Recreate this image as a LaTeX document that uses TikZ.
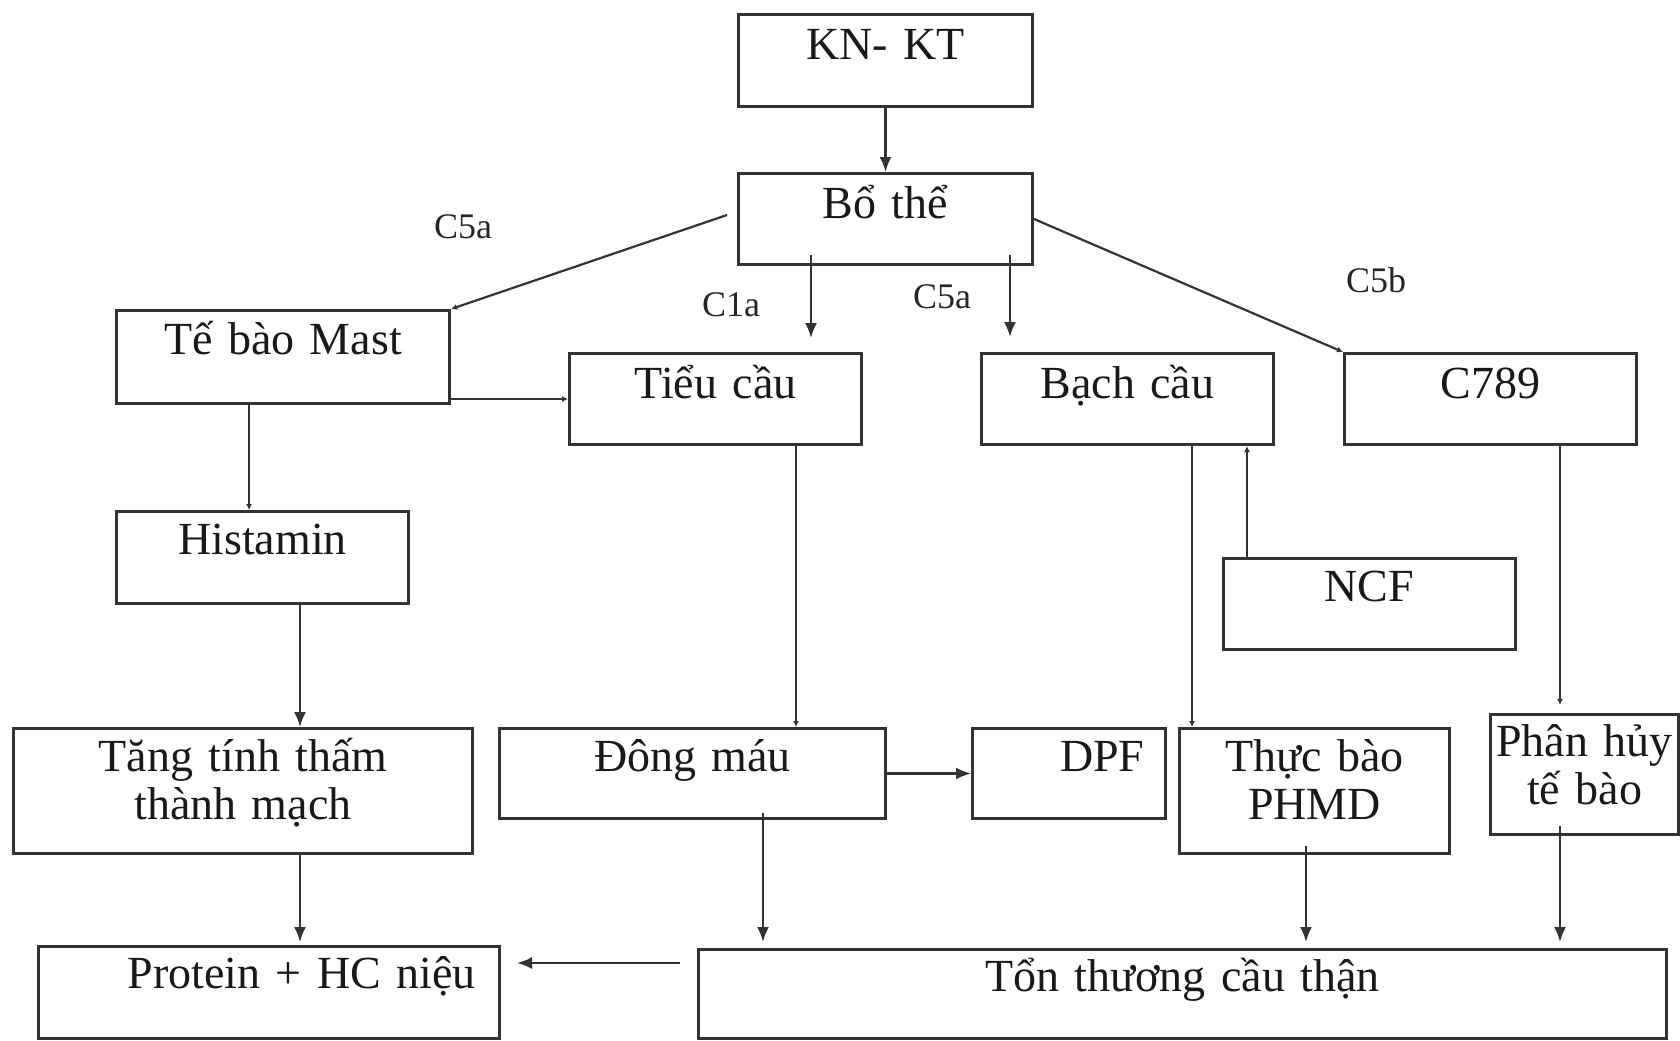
\documentclass[tikz,border=0pt]{standalone}
\usepackage{fontspec}
\setmainfont{Liberation Serif}
\usetikzlibrary{arrows.meta, calc}
\tikzset{
  box/.style ={rectangle, draw=black!80, line width=1.5pt, inner sep=0pt, align=center, anchor=north west, text=black!90, font=\fontsize{23}{24}\selectfont},
  wh/.style args={#1/#2/#3}{text width=#1, text height=#2, text depth=#3},
  fl/.style  ={-{Latex[length=7.5pt,width=6pt]}, line width=1.1pt, draw=black!80},
  fs/.style  ={-{Latex[length=3pt,width=3pt]}, line width=1.1pt, draw=black!80},
  lbl/.style ={font=\fontsize{18}{20}\selectfont, text=black!85, inner sep=1pt},
}
\begin{document}
\begin{tikzpicture}[x=0.5pt, y=-0.5pt]
  \useasboundingbox (0,0) rectangle (1680,1040);
  % boxes
  \node[box, wh={147pt/22.5pt/23.5pt}] (kn) at (737,13) {KN- KT};
  \node[box, wh={147pt/22.5pt/23pt}] (bo) at (737,172) {Bổ thể};
  \node[box, wh={166.5pt/22pt/24.5pt}] (mast) at (115,309) {Tế bào Mast};
  \node[box, wh={146pt/22.5pt/23pt}] (tieu) at (568,352) {Tiểu cầu};
  \node[box, wh={146pt/22.5pt/23pt}] (bach) at (980,352) {Bạch cầu};
  \node[box, wh={146pt/22.5pt/23pt}] (c789) at (1343,352) {C789};
  \node[box, wh={146pt/21.5pt/24.5pt}] (hist) at (115,510) {Histamin};
  \node[box, wh={146pt/21.5pt/24pt}] (ncf) at (1222,557) {NCF};
  \node[box, wh={229.5pt/21.5pt/41pt}] (tang) at (12,727) {Tăng tính thấm\\thành mạch};
  \node[box, wh={193pt/21.5pt/23.5pt}] (dong) at (498,727) {Đông máu};
  \node[box, wh={75.5pt/21.5pt/23.5pt}, inner xsep=10.5pt, align=right] (dpf) at (971,727) {DPF};
  \node[box, wh={135pt/21.5pt/41pt}] (thuc) at (1178,727) {Thực bào\\PHMD};
  \node[box, wh={94pt/21pt/39pt}] (phan) at (1489,713) {Phân hủy\\tế bào};
  \node[box, wh={206.5pt/21pt/25pt}, inner xsep=12pt, align=right] (prot) at (37,945) {Protein + HC niệu};
  \node[box, wh={484pt/21pt/23.5pt}] (ton) at (697,948) {Tổn thương cầu thận};
  % labels
  \node[lbl] (lc5a) at (463,227) {C5a};
  \node[lbl] (lc1a) at (731,305) {C1a};
  \node[lbl] (lc5am) at (942,297) {C5a};
  \node[lbl] (lc5b) at (1376,280) {C5b};
  % arrows
  \draw[fl] (kn) -- (bo);
  \draw[fs] ([xshift=-5pt,yshift=2pt]bo.west) -- (mast.north east);
  \draw[fl] ([shift={(74,-11)}]bo.south west) -- ([shift={(243,-14)}]tieu.north west);
  \draw[fl] ([shift={(273,-11)}]bo.south west) -- ([shift={(30,-15)}]bach.north west);
  \draw[fs] (bo.east) -- (c789.north west);
  \draw[fs] (mast.east |- tieu.west) -- (tieu.west);
  \draw[fs] ([xshift=67pt]mast.south west) -- ([xshift=67pt]hist.north west);
  \draw[fs] ([xshift=114pt]tieu.south west) -- ([xshift=149pt]dong.north west);
  \draw[fl] ([xshift=92.5pt]hist.south west) -- ([xshift=144pt]tang.north west);
  \draw[fl] ([xshift=144pt]tang.south west) -- ([shift={(263,-3)}]prot.north west);
  \draw[fl] (dong) -- (dpf);
  \draw[fl] ([shift={(265,-7)}]dong.south west) -- ([shift={(66,-6)}]ton.north west);
  \draw[fs] ([xshift=106pt]bach.south west) -- ([xshift=7pt]thuc.north west);
  \draw[fs] ([xshift=12.5pt]ncf.north west) -- ([xshift=133.5pt]bach.south west);
  \draw[fs] ([xshift=108.5pt]c789.south west) -- ([shift={(71,-8)}]phan.north west);
  \draw[fl] ([shift={(128,-9)}]thuc.south west) -- ([shift={(609,-6)}]ton.north west);
  \draw[fl] ([shift={(71,-10)}]phan.south west) -- ([shift={(863,-6)}]ton.north west);
  \draw[fl] ([shift={(-17,15)}]ton.north west) -- ([shift={(16,18)}]prot.north east);
\end{tikzpicture}
\end{document}
